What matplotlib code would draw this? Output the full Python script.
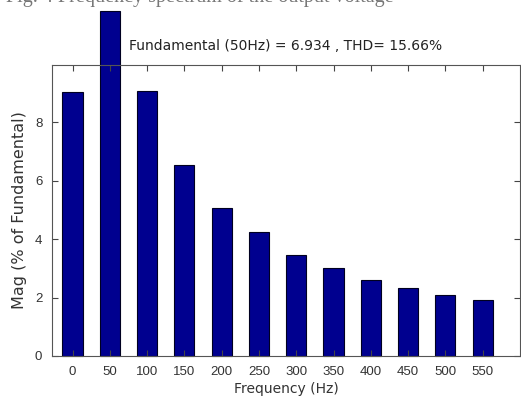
import matplotlib
matplotlib.use("Agg")
import matplotlib.pyplot as plt

# harmonic spectrum, % of fundamental (50 Hz bar runs off the plot, as in the scan)
freqs = [0, 50, 100, 150, 200, 250, 300, 350, 400, 450, 500, 550]
mags = [9.03, 11.8, 9.05, 6.53, 5.06, 4.24, 3.45, 3.0, 2.6, 2.33, 2.09, 1.91]
yticks = [0, 2, 4, 6, 8]

title = 'Fundamental (50Hz) = 6.934 , THD= 15.66%'
caption = 'Fig. 4 Frequency spectrum of the output voltage'

plt.rcParams['font.family'] = ['Liberation Sans', 'DejaVu Sans']

fig = plt.figure(figsize=(5.21, 4.08), dpi=100)
ax = fig.add_axes([52/521., 52/408., 468/521., 291/408.])

bars = ax.bar(freqs, mags, width=27, color='#00008f', edgecolor='#000020', linewidth=0.8)
for b in bars:
    b.set_clip_on(False)

ax.set_xlim(-27.5, 600)
ax.set_ylim(0, 9.95)
ax.set_xticks(freqs)
ax.set_yticks(yticks)
ax.tick_params(direction='in', top=True, right=True, length=4, labelsize=9.5,
               colors='#444444', labelcolor='#333333')
ax.tick_params(axis='x', pad=7)
ax.tick_params(axis='y', pad=7)
for s in ax.spines.values():
    s.set_color('#555555')
    s.set_linewidth(0.8)

ax.set_title(title, fontsize=10, family='DejaVu Sans', color='#222222', pad=11)
ax.set_xlabel('Frequency (Hz)', fontsize=10, family='DejaVu Sans', color='#333333', labelpad=3)
ax.set_ylabel('Mag (% of Fundamental)', fontsize=11.5, family='DejaVu Sans', color='#333333', labelpad=6)

# paper caption, cut off by the top edge as in the scan
fig.text(6/521., 1 - 2/408., caption, fontsize=14.5, family='Liberation Serif',
         color='#777777', va='baseline', ha='left')

fig.savefig('out.png', dpi=100)
